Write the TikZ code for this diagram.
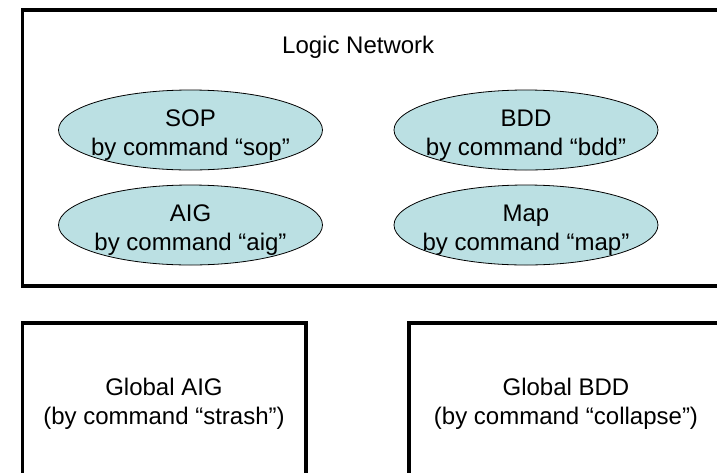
\documentclass[tikz,border=0pt]{standalone}
\usepackage{fontspec}
\setmainfont{Liberation Sans}
\usetikzlibrary{shapes.geometric}
\definecolor{ellfill}{RGB}{187,224,227}
\begin{document}
\begin{tikzpicture}[x=1pt,y=-1pt,
  frame/.style={draw=black,line width=3.5pt},
  oval/.style={ellipse,draw=black,line width=0.8pt,fill=ellfill,minimum width=264pt,minimum height=80pt,inner sep=0pt},
  txt/.style={font=\fontsize{24}{28.8}\selectfont,align=center,inner sep=0pt}]
\useasboundingbox (0,0) rectangle (717,472);
\clip (0,0) rectangle (717,472);
\draw[frame] (22.5,10) rectangle (740,286);
\draw[frame] (22.5,323) rectangle (306,500);
\draw[frame] (409,323) rectangle (740,500);
\node[txt,anchor=base west] (ln) at (282,53) {Logic Network};
\node[oval] (sop) at (190.5,130) {};
\node[oval] (bdd) at (526,130) {};
\node[oval] (aig) at (190.5,225) {};
\node[oval] (map) at (526,225) {};
\node[txt] (soptxt) at (sop.center) [yshift=-5pt] {SOP\\by command “sop”};
\node[txt] (bddtxt) at (bdd.center) [yshift=-5pt] {BDD\\by command “bdd”};
\node[txt] (aigtxt) at (aig.center) [yshift=-5pt] {AIG\\by command “aig”};
\node[txt] (maptxt) at (map.center) [yshift=-5pt] {Map\\by command “map”};
\node[txt] (gaig) at (164,403.5) {Global AIG\\(by command “strash”)};
\node[txt] (gbdd) at (566,403.5) {Global BDD\\(by command “collapse”)};
\end{tikzpicture}
\end{document}
